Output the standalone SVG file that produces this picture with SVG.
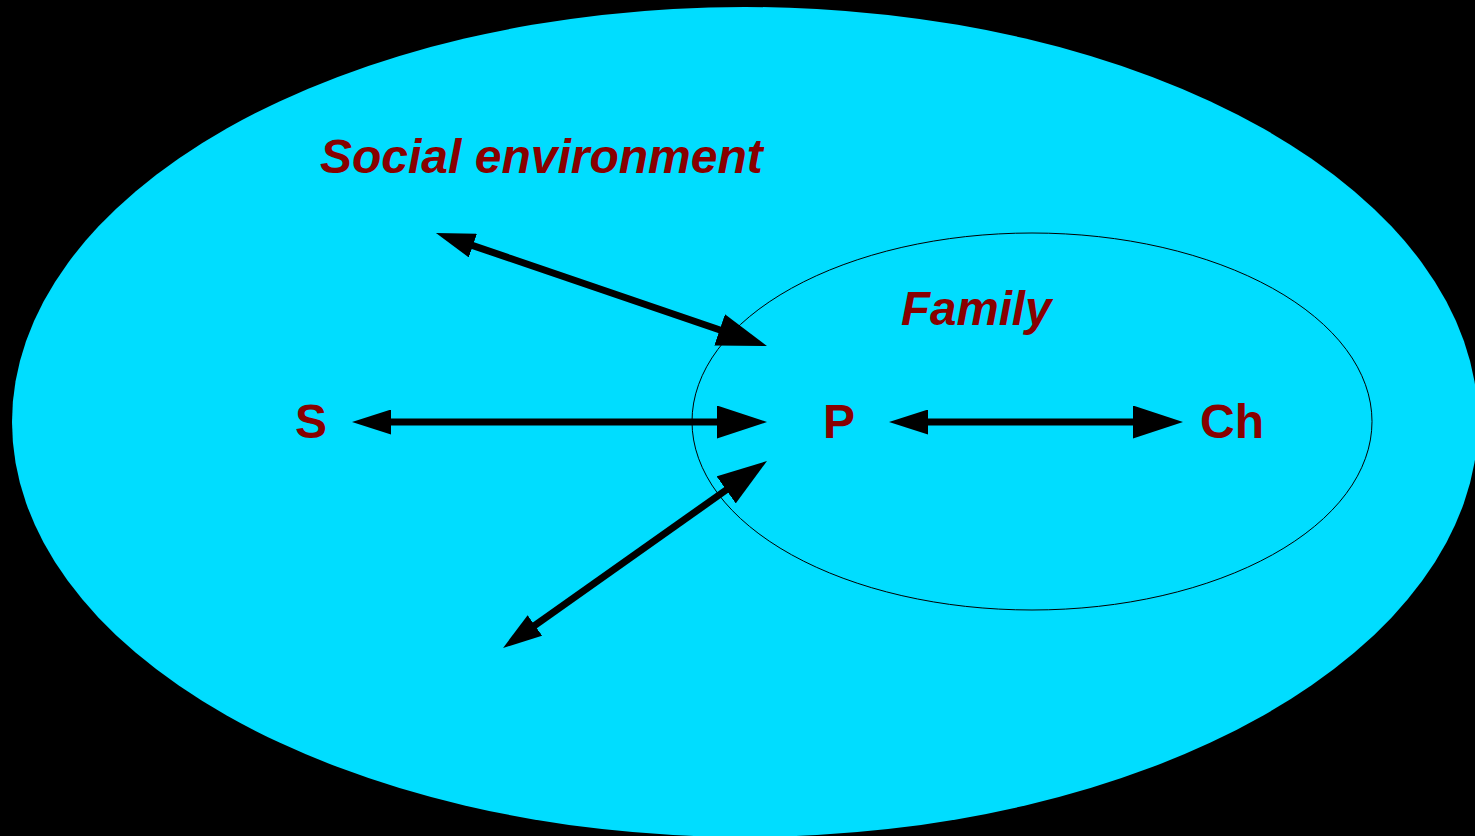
<svg xmlns="http://www.w3.org/2000/svg" width="1475" height="836" viewBox="0 0 1475 836">
<style>
.lbl{font-family:"Liberation Sans",Arial,sans-serif;font-weight:bold;fill:#880000}
.it{font-style:italic}
.conn line{stroke:#000;stroke-width:7;marker-start:url(#hs);marker-end:url(#he)}
</style>
<defs>
<marker id="he" viewBox="0 0 50 33" refX="12" refY="16.5" markerWidth="50" markerHeight="33" markerUnits="userSpaceOnUse" orient="auto"><path d="M0,0 L50,16.5 L0,33 z" fill="#000"/></marker>
<marker id="hs" viewBox="0 0 39 25" refX="10" refY="12.5" markerWidth="39" markerHeight="25" markerUnits="userSpaceOnUse" orient="auto-start-reverse"><path d="M0,0 L39,12.5 L0,25 z" fill="#000"/></marker>
</defs>
<rect width="1475" height="836" fill="#000"/>
<g id="social-environment">
<ellipse cx="745" cy="422" rx="733" ry="415" fill="#00DDFF"/>
<text class="lbl it" x="320" y="173" font-size="48">Social environment</text>
</g>
<g id="family">
<ellipse cx="1032" cy="421.5" rx="340" ry="188.5" fill="none" stroke="#000" stroke-width="1"/>
<text class="lbl it" x="901" y="325" font-size="47.5">Family</text>
</g>
<g id="node-S"><text class="lbl" x="295" y="438" font-size="48">S</text></g>
<g id="node-P"><text class="lbl" x="823" y="438" font-size="48">P</text></g>
<g id="node-Ch"><text class="lbl" x="1200" y="438" font-size="48">Ch</text></g>
<g id="connectors" class="conn">
<line x1="381" y1="422" x2="729" y2="422"/>
<line x1="918" y1="422" x2="1145" y2="422"/>
<line x1="463.4" y1="242.4" x2="731" y2="333.7"/>
<line x1="526.7" y1="631.2" x2="736" y2="483"/>
</g>
</svg>
